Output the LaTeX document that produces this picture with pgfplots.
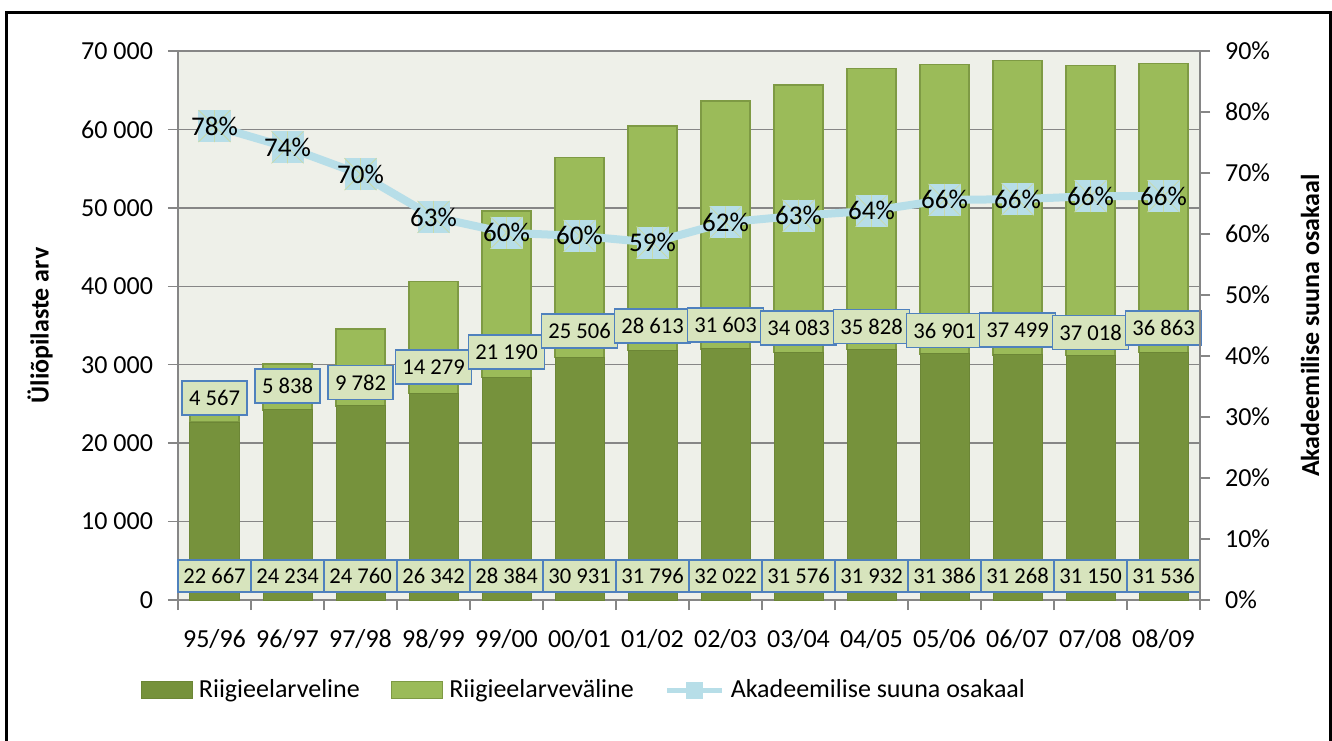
\documentclass[border=0pt]{standalone}
\usepackage{pgfplots}
\pgfplotsset{compat=1.18}
\usepackage{pgfplotstable}
\usepackage{fontspec}
\setmainfont{Carlito}
\definecolor{cdark}{RGB}{118,146,60}
\definecolor{cdarke}{RGB}{108,134,54}
\definecolor{clight}{RGB}{155,187,89}
\definecolor{clighte}{RGB}{126,154,68}
\definecolor{lb}{RGB}{183,222,232}
\definecolor{astcol}{RGB}{200,218,170}
\definecolor{boxfill}{RGB}{215,228,189}
\definecolor{boxdraw}{RGB}{79,129,189}
\definecolor{plotbg}{RGB}{238,240,233}
\definecolor{gridc}{RGB}{134,134,134}
\newcommand{\tfont}{\fontsize{13pt}{15pt}\selectfont}
\newcommand{\dfont}{\fontsize{11.3pt}{13pt}\selectfont}
\newcommand{\pfont}{\fontsize{13.5pt}{16pt}\selectfont}
\pgfdeclareplotmark{sqast}{%
  \pgfpathrectangle{\pgfqpoint{-\pgfplotmarksize}{-\pgfplotmarksize}}{\pgfqpoint{2\pgfplotmarksize}{2\pgfplotmarksize}}%
  \pgfusepathqfill
  \pgfsetlinewidth{0.4pt}\pgfsetstrokecolor{astcol}%
  \pgfpathmoveto{\pgfqpoint{-\pgfplotmarksize}{-\pgfplotmarksize}}\pgfpathlineto{\pgfqpoint{\pgfplotmarksize}{\pgfplotmarksize}}%
  \pgfpathmoveto{\pgfqpoint{-\pgfplotmarksize}{\pgfplotmarksize}}\pgfpathlineto{\pgfqpoint{\pgfplotmarksize}{-\pgfplotmarksize}}%
  \pgfpathmoveto{\pgfqpoint{0pt}{-\pgfplotmarksize}}\pgfpathlineto{\pgfqpoint{0pt}{\pgfplotmarksize}}%
  \pgfusepathqstroke}
\pgfplotstableread{
x dark light pct dpos lpos
0 22667 4567 77.7 3050 25765
1 24234 5838 74.2 3050 27296
2 24760 9782 69.8 3050 27743
3 26342 14279 62.8 3050 29719
4 28384 21190 60.2 3050 31632
5 30931 25506 59.7 3050 34311
6 31796 28613 58.6 3050 34949
7 32022 31603 61.9 3050 35076
8 31576 34083 63.0 3050 34656
9 31932 35828 63.8 3050 34860
10 31386 36901 65.6 3050 34349
11 31268 37499 65.7 3050 34439
12 31150 37018 66.2 3050 34094
13 31536 36863 66.2 3050 34656
}\datatable
\begin{document}
\begin{tikzpicture}
\useasboundingbox (-89pt,-70pt) rectangle (577pt,300pt);
% main axis: stacked bars
\begin{axis}[
  at={(0,0)}, anchor=south west,
  scale only axis, width=511pt, height=274.5pt,
  xmin=-0.5, xmax=13.5, ymin=0, ymax=70000,
  scaled y ticks=false,
  ybar stacked, bar width=24.5pt,
  axis background/.style={fill=plotbg},
  ymajorgrids, grid style={gridc, line width=0.75pt},
  axis line style={gridc, line width=0.75pt},
  tick align=outside, major tick length=5pt, minor tick length=5pt,
  ytick={0,10000,20000,30000,40000,50000,60000,70000},
  yticklabels={0,10 000,20 000,30 000,40 000,50 000,60 000,70 000},
  ytick pos=left, xtick pos=bottom,
  xtick={0,...,13},
  xticklabels={95/96,96/97,97/98,98/99,99/00,00/01,01/02,02/03,03/04,04/05,05/06,06/07,07/08,08/09},
  major x tick style={draw=none},
  minor xtick={-0.5,0.5,...,13.5},
  minor x tick style={gridc, line width=0.75pt},
  y tick style={gridc, line width=0.75pt},
  ticklabel style={font=\tfont, text=black},
  yticklabel style={xshift=-4pt},
  xticklabel style={yshift=-6pt},
  ylabel={Üliõpilaste arv},
  ylabel style={font=\bfseries\tfont, at={(axis description cs:-0.135,0.5)}, anchor=center},
  legend columns=3,
  legend style={draw=none, fill=none, font=\tfont, at={(axis description cs:-0.0425,-0.164)}, anchor=west,
    nodes={inner xsep=0pt},
    column sep=3pt,
    /tikz/every even column/.append style={column sep=15.5pt}},
  legend cell align=left,
]
\addplot[fill=cdark, draw=cdarke, line width=0.5pt, forget plot] table[x=x,y=dark]{\datatable};
\addplot[fill=clight, draw=clighte, line width=0.75pt, forget plot] table[x=x,y=light]{\datatable};
\addlegendimage{legend image code/.code={\draw[fill=cdark,draw=cdarke,line width=0.5pt] (0pt,-4.25pt) rectangle (25.5pt,4.25pt);}}
\addlegendentry{Riigieelarveline}
\addlegendimage{legend image code/.code={\draw[fill=clight,draw=clighte,line width=0.75pt] (0pt,-4.25pt) rectangle (25.5pt,4.25pt);}}
\addlegendentry{Riigieelarveväline}
\addlegendimage{legend image code/.code={\draw[lb,line width=2.5pt] (0pt,0pt) -- (27.5pt,0pt); \fill[lb] (9.75pt,-4pt) rectangle (17.75pt,4pt);}}
\addlegendentry{Akadeemilise suuna osakaal}
\end{axis}
% bar value labels
\begin{axis}[
  at={(0,0)}, anchor=south west,
  scale only axis, width=511pt, height=274.5pt,
  xmin=-0.5, xmax=13.5, ymin=0, ymax=70000,
  hide axis, clip=false,
]
\addplot[draw=none, mark=none, point meta=explicit,
  nodes near coords={\pgfmathprintnumber[fixed,precision=0,1000 sep={\ },assume math mode=true]{\pgfplotspointmeta}},
  every node near coord/.append style={anchor=center, text=black, draw=boxdraw, fill=boxfill, line width=0.75pt,
    minimum width=36.5pt, minimum height=16pt, inner sep=0pt, font=\dfont}]
  table[x=x,y=dpos,meta=dark]{\datatable};
\addplot[draw=none, mark=none, point meta=explicit,
  nodes near coords={\pgfmathprintnumber[fixed,precision=0,1000 sep={\ },assume math mode=true]{\pgfplotspointmeta}},
  every node near coord/.append style={anchor=center, text=black, draw=boxdraw, fill=boxfill, line width=0.75pt,
    minimum height=17pt, inner xsep=3.5pt, inner ysep=0pt, font=\dfont}]
  table[x=x,y=lpos,meta=light]{\datatable};
\end{axis}
% percentage axis
\begin{axis}[
  at={(0,0)}, anchor=south west,
  scale only axis, width=511pt, height=274.5pt,
  xmin=-0.5, xmax=13.5, ymin=0, ymax=90,
  axis x line=none, axis y line*=right,
  axis line style={gridc, line width=0.75pt},
  tick align=outside, major tick length=5pt,
  y tick style={gridc, line width=0.75pt},
  ytick={0,10,20,30,40,50,60,70,80,90},
  yticklabels={0\%,10\%,20\%,30\%,40\%,50\%,60\%,70\%,80\%,90\%},
  yticklabel style={font=\tfont, text=black, xshift=4pt},
  ylabel={Akadeemilise suuna osakaal},
  ylabel style={font=\bfseries\tfont, at={(axis description cs:1.1077,0.5)}, anchor=center, rotate=0},
  clip=false,
]
\addplot[color=lb, line width=4pt, mark=sqast, mark size=8pt, mark options={fill=lb},
  point meta=explicit,
  nodes near coords={\pgfmathprintnumber[fixed,precision=0,assume math mode=true]{\pgfplotspointmeta}\%},
  every node near coord/.append style={anchor=center, text=black, font=\pfont}]
  table[x=x,y=pct,meta=pct]{\datatable};
\end{axis}
\draw[line width=1.5pt] (-85.5pt,-80pt) -- (-85.5pt,293.75pt) -- (576pt,293.75pt) -- (576pt,-80pt);
\end{tikzpicture}
\end{document}
